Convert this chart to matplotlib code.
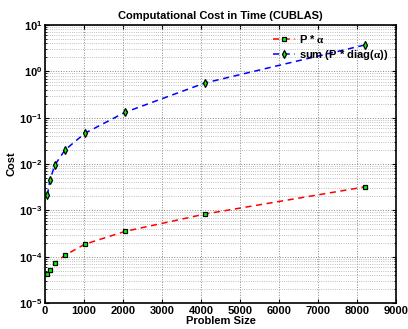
import matplotlib
matplotlib.use("Agg")
import matplotlib.pyplot as plt
from matplotlib.ticker import LogLocator, NullFormatter

# ====== data ======
sizes = [64, 128, 256, 512, 1024, 2048, 4096, 8192]
cost_scale = [4.2e-5, 5.1e-5, 7.2e-5, 1.07e-4, 1.86e-4, 3.5e-4, 8.3e-4, 3.2e-3]
cost_diag = [2.1e-3, 4.5e-3, 9.5e-3, 2.0e-2, 4.6e-2, 0.13, 0.56, 3.7]
xticks = list(range(0, 9001, 1000))

plt.rcParams["font.family"] = ["Liberation Sans", "DejaVu Sans"]
plt.rcParams["font.weight"] = "bold"
plt.rcParams["mathtext.fontset"] = "custom"
plt.rcParams["mathtext.rm"] = "Liberation Serif"
plt.rcParams["mathtext.it"] = "Liberation Serif:italic"
plt.rcParams["mathtext.default"] = "rm"

fig = plt.figure(figsize=(4.08, 3.29), dpi=100)
ax = fig.add_axes([0.110, 0.079, 0.861, 0.845])

ax.plot(sizes, cost_scale, color="red", lw=1.1, dashes=(4, 3),
        marker="s", ms=3.5, mfc="#00ff00", mec="black", mew=0.9, label=r"P * $\alpha$")
ax.plot(sizes, cost_diag, color="blue", lw=1.1, dashes=(4, 3),
        marker="d", ms=4, mfc="#00ff00", mec="black", mew=0.9,
        label=r"sum (P * diag($\alpha$))")

ax.set_yscale("log")
ax.set_xlim(0, 9000)
ax.set_ylim(1e-5, 10)
ax.set_xticks(xticks)
ax.yaxis.set_major_locator(LogLocator(base=10, numticks=10))
ax.yaxis.set_minor_locator(LogLocator(base=10, subs=range(2, 10), numticks=20))
ax.yaxis.set_minor_formatter(NullFormatter())

ax.grid(True, which="major", color="#888888", linestyle=":", linewidth=0.7)
ax.grid(True, which="minor", axis="y", color="#aaaaaa", linestyle=":", linewidth=0.6)

ax.tick_params(which="both", direction="in", top=True, right=True, labelsize=8, pad=2)
ax.tick_params(which="major", length=3)
ax.tick_params(which="minor", length=1.5)
for s in ax.spines.values():
    s.set_linewidth(1.2)

ax.set_title("Computational Cost in Time (CUBLAS)", fontsize=8, fontweight="bold", pad=4)
ax.set_xlabel("Problem Size", fontsize=8, fontweight="bold", labelpad=0)
ax.set_ylabel("Cost", fontsize=8, fontweight="bold", labelpad=2)
ax.legend(loc="upper right", frameon=False, fontsize=8, handlelength=2.0,
          borderaxespad=0.3, labelspacing=0.3, handletextpad=0.4)

fig.savefig("out.png", dpi=100)
